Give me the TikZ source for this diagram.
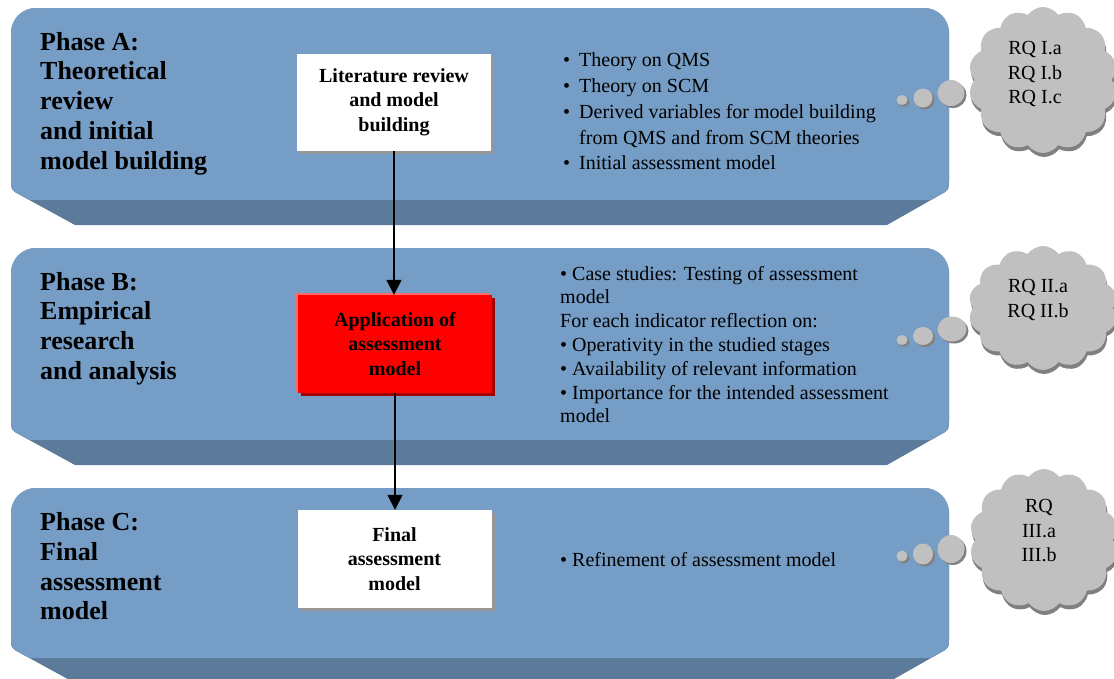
\documentclass[tikz,border=0pt]{standalone}
\usepackage{fontspec}
\setmainfont{Liberation Serif}
\usetikzlibrary{arrows.meta,shapes.symbols,shadows}

\definecolor{faceblue}{RGB}{117,157,197}
\definecolor{shelfblue}{RGB}{92,122,153}
\definecolor{cloudgray}{RGB}{192,192,192}
\definecolor{cloudshade}{RGB}{128,128,128}
\definecolor{boxshade}{RGB}{150,150,150}
\definecolor{redshade}{RGB}{165,0,0}
\definecolor{redrim}{RGB}{255,105,105}

% Bevelled phase panel: #1 top edge, #2 bottom of the face, #3 bottom of the shelf
\newcommand\phasepanel[3]{%
  \def\panelpath{(480,#1) -- (924,#1) .. controls (937.8,#1) and (949,#1+11.2) .. (949,#1+25)
    -- (949,#2-20) .. controls (949,#2-10) .. (940.2,#2-5.2) -- (887,#3) -- (75,#3)
    -- (19.8,#2-5.2) .. controls (11,#2-10) .. (11,#2-20) -- (11,#1+25)
    .. controls (11,#1+11.2) and (22.2,#1) .. (36,#1) -- cycle}%
  \fill[shelfblue] \panelpath;
  \begin{scope}
    \clip \panelpath;
    \fill[faceblue] (0,#1-2) rectangle (1114,#2);
  \end{scope}}

% Small thought bubbles leading to a cloud
\newcommand\thoughtdot[4]{%
  \fill[cloudshade] (#1+2,#2+2) ellipse [x radius=#3pt, y radius=#4pt];
  \fill[cloudgray] (#1,#2) ellipse [x radius=#3pt, y radius=#4pt];}

\newcommand\bul{\makebox[16pt][l]{•}}

\begin{document}
\begin{tikzpicture}[x=1pt,y=-1pt,
  phase/.style={anchor=west, inner sep=0pt, align=left,
    font=\fontsize{26}{29.7}\selectfont\bfseries},
  notes/.style={anchor=west, inner sep=0pt, align=left,
    font=\fontsize{20}{25.7}\selectfont},
  stagebox/.style={fill=white, minimum width=194pt, minimum height=97pt,
    inner sep=2pt, align=center, font=\fontsize{20}{24.5}\selectfont\bfseries,
    drop shadow={shadow xshift=3pt, shadow yshift=-3pt, opacity=1, fill=boxshade}},
  keybox/.style={stagebox, fill=red,
    drop shadow={shadow xshift=3pt, shadow yshift=-3pt, opacity=1, fill=redshade},
    drop shadow={shadow xshift=-2pt, shadow yshift=2pt, opacity=1, fill=redrim}},
  flow/.style={line width=1.5pt, -{Triangle[length=15pt,width=15pt]}},
  rqcloud/.style={cloud, cloud puffs=14, cloud puff arc=110, fill=cloudgray,
    inner sep=0pt, minimum width=149pt, minimum height=146pt,
    drop shadow={shadow xshift=1pt, shadow yshift=-4pt, opacity=1, fill=cloudshade}},
  rqtext/.style={inner sep=0pt, align=center, font=\fontsize{20}{24.5}\selectfont}]

\useasboundingbox (0,0) rectangle (1114,678);
\clip (0,0) rectangle (1114,678);

% phase panels
\phasepanel{8}{200}{225}
\phasepanel{248}{440}{465}
\phasepanel{488}{658}{683}

% phase titles
\node[phase] (phA) at (40,103.5) {Phase A:\\Theoretical\\review\\and initial\\model building};
\node[phase] (phB) at (40,328.5) {Phase B:\\Empirical\\research\\and analysis};
\node[phase] (phC) at (40,566.5) {Phase C:\\Final\\assessment\\model};

% stages of the method
\node[stagebox] (lit) at (394,102) {Literature review\\and model\\building};
\node[keybox, minimum height=98pt] (app) at (395,344) {Application of\\assessment\\model};
\node[stagebox, minimum height=98pt] (final) at (394.5,559) {Final\\assessment\\model};

\draw[flow] (lit.south) -- (lit.south |- app.north);
\draw[flow] (app.south) -- (app.south |- final.north);

% phase contents
\node[notes] (notesA) at (563,111.5) {\bul Theory on QMS\\\bul Theory on SCM\\\bul Derived variables for model building\\\hspace*{16pt}from QMS and from SCM theories\\\bul Initial assessment model};
\node[notes, font=\fontsize{20}{23.8}\selectfont] (notesB) at (560,344.5) {• Case studies: Testing of assessment\\model\\For each indicator reflection on:\\• Operativity in the studied stages\\• Availability of relevant information\\• Importance for the intended assessment\\model};
\node[notes] (notesC) at (560,560) {• Refinement of assessment model};

% research questions
\node[rqcloud] (cloudA) at (1043,80) {};
\node[rqcloud, minimum height=124pt] (cloudB) at (1043,308) {};
\node[rqcloud, minimum height=142pt] (cloudC) at (1044,540) {};

\thoughtdot{902}{100}{5.5}{5}
\thoughtdot{923}{98}{9.5}{9.5}
\thoughtdot{951}{93}{13.5}{13}
\thoughtdot{902}{340}{5.5}{5}
\thoughtdot{923}{336}{10}{9}
\thoughtdot{952}{329}{14.5}{12.5}
\thoughtdot{902}{556}{5.5}{5.5}
\thoughtdot{923}{554}{10}{10.5}
\thoughtdot{951}{549}{13.5}{14}

\node[rqtext] (rqA) at (1035,74) {RQ I.a\\RQ I.b\\RQ I.c};
\node[rqtext] (rqB) at (1038,300) {RQ II.a\\RQ II.b};
\node[rqtext] (rqC) at (1039,531) {RQ\\III.a\\III.b};
\end{tikzpicture}
\end{document}
